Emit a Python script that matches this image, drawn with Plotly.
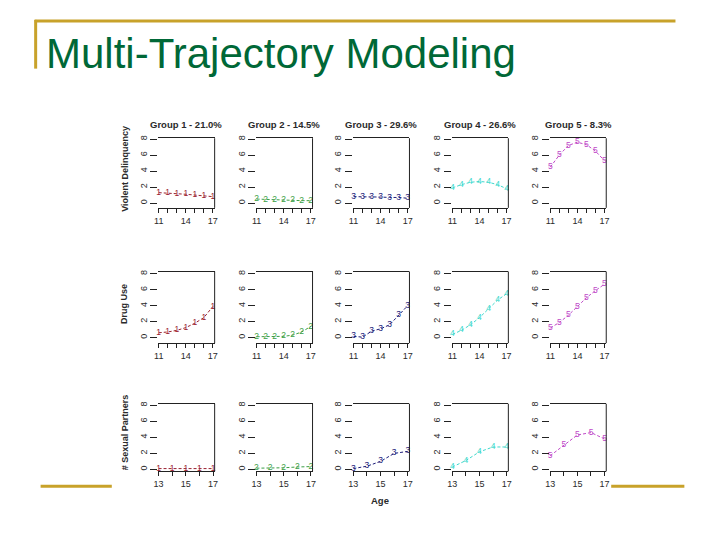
import plotly.graph_objects as go

# ---------------- data ----------------
ages_main = [11, 12, 13, 14, 15, 16, 17]
ages_sex = [13, 14, 15, 16, 17]
x_ticks_main = [11, 14, 17]
x_ticks_sex = [13, 15, 17]
y_ticks = [0, 2, 4, 6, 8]

group_titles = ["Group 1 - 21.0%", "Group 2 - 14.5%", "Group 3 - 29.6%",
                "Group 4 - 26.6%", "Group 5 - 8.3%"]
group_labels = ["1", "2", "3", "4", "5"]
row_titles = ["Violent Delinquency", "Drug Use", "# Sexual Partners"]

violent_g1 = [1.3, 1.25, 1.15, 1.1, 1.0, 0.9, 0.8]
violent_g2 = [0.5, 0.45, 0.4, 0.35, 0.35, 0.3, 0.3]
violent_g3 = [0.8, 0.8, 0.8, 0.75, 0.7, 0.7, 0.6]
violent_g4 = [1.9, 2.3, 2.6, 2.7, 2.6, 2.3, 1.8]
violent_g5 = [4.5, 6.0, 7.2, 7.6, 7.3, 6.5, 5.3]

drug_g1 = [0.6, 0.7, 0.9, 1.25, 1.8, 2.5, 3.9]
drug_g2 = [0.1, 0.1, 0.1, 0.15, 0.3, 0.7, 1.4]
drug_g3 = [0.15, 0.05, 0.8, 1.1, 1.6, 2.8, 4.0]
drug_g4 = [0.4, 0.9, 1.6, 2.5, 3.6, 4.7, 5.5]
drug_g5 = [1.2, 1.9, 2.8, 3.9, 5.0, 5.9, 6.7]

sex_g1 = [0.1, 0.1, 0.1, 0.1, 0.1]
sex_g2 = [0.15, 0.15, 0.2, 0.3, 0.35]
sex_g3 = [0.1, 0.4, 1.0, 2.0, 2.25]
sex_g4 = [0.3, 1.1, 2.2, 2.8, 2.8]
sex_g5 = [1.7, 3.0, 4.3, 4.6, 3.8]

rows_data = [
    [violent_g1, violent_g2, violent_g3, violent_g4, violent_g5],
    [drug_g1, drug_g2, drug_g3, drug_g4, drug_g5],
    [sex_g1, sex_g2, sex_g3, sex_g4, sex_g5],
]

# ---------------- styles ----------------
group_colors = ["#9a2030", "#3a9e44", "#1c1c7a", "#40d8cc", "#c04ac8"]
W, H = 720, 540
col_left = [155, 254, 352, 452, 551]
col_w = 57
row_top = [136, 270, 403]
row_bot = [206, 342, 471]
row_yrange = [[-0.6, 8.1], [-0.7, 8.3], [-0.25, 8.2]]
x_range_main = [10.95, 17.2]
x_range_sex = [12.98, 17.12]
gold = "#C8A22A"
title_green = "#006837"
axis_col = "#222222"
text_col = "#2a2a2a"
font_fam = "Liberation Sans, Arial, sans-serif"

fig = go.Figure()
layout = {}
shapes = []
annotations = []

for r in range(3):
    for c in range(5):
        idx = r * 5 + c + 1
        sfx = "" if idx == 1 else str(idx)
        xname, yname = "x" + sfx, "y" + sfx
        ages = ages_sex if r == 2 else ages_main
        vals = rows_data[r][c]
        fig.add_trace(go.Scatter(
            x=ages, y=vals, xaxis=xname, yaxis=yname,
            mode="lines+text", text=[group_labels[c]] * len(ages),
            textposition="middle center",
            textfont=dict(size=8.5, color=group_colors[c], family=font_fam),
            line=dict(color=group_colors[c], width=1, dash="3px,2px"),
            cliponaxis=False, hoverinfo="skip", showlegend=False))
        l = col_left[c]
        layout["xaxis" + sfx] = dict(
            domain=[l / W, (l + col_w) / W], anchor=yname,
            range=x_range_sex if r == 2 else x_range_main,
            tickmode="array",
            tickvals=x_ticks_sex if r == 2 else x_ticks_main,
            ticks="outside", ticklen=4, tickwidth=1, tickcolor=axis_col,
            minor=dict(tickmode="array", tickvals=ages, ticks="outside",
                       ticklen=4, tickwidth=1, tickcolor=axis_col, showgrid=False),
            showline=True, linecolor=axis_col, linewidth=1, mirror=True,
            showgrid=False, zeroline=False, fixedrange=True,
            tickfont=dict(size=9, color=text_col, family=font_fam))
        layout["yaxis" + sfx] = dict(
            domain=[1 - row_bot[r] / H, 1 - row_top[r] / H], anchor=xname,
            range=row_yrange[r], tickmode="array", tickvals=y_ticks,
            tickangle=-90, ticks="outside", ticklen=7, tickwidth=1,
            tickcolor=axis_col, showline=False, showgrid=False,
            zeroline=False, fixedrange=True,
            tickfont=dict(size=9, color=text_col, family=font_fam))
        shapes.append(dict(type="line", xref=xname + " domain",
                           yref=yname + " domain", x0=1, x1=1, y0=0, y1=1,
                           line=dict(color=axis_col, width=1)))

# group titles
for c in range(5):
    annotations.append(dict(
        text="<b>" + group_titles[c] + "</b>", xref="paper", yref="paper",
        x=(col_left[c] + col_w / 2) / W, y=1 - 122 / H,
        xanchor="center", yanchor="middle", showarrow=False,
        font=dict(size=9.5, color=text_col, family=font_fam)))

# row titles
row_centers = [167, 303, 432]
for r in range(3):
    annotations.append(dict(
        text="<b>" + row_titles[r] + "</b>", xref="paper", yref="paper",
        x=121 / W, y=1 - row_centers[r] / H, textangle=-90,
        xanchor="center", yanchor="middle", showarrow=False,
        font=dict(size=9, color=text_col, family=font_fam)))

# Age label
annotations.append(dict(
    text="<b>Age</b>", xref="paper", yref="paper", x=379 / W, y=1 - 500 / H,
    xanchor="center", yanchor="middle", showarrow=False,
    font=dict(size=9.5, color=text_col, family=font_fam)))

# slide title
annotations.append(dict(
    text="Multi-Trajectory Modeling", xref="paper", yref="paper",
    x=39 / W, y=1 - 51 / H, xanchor="left", yanchor="middle",
    showarrow=False, font=dict(size=42, color=title_green, family=font_fam)))

# slide decoration lines
def pline(x0, y0, x1, y1, w=3):
    return dict(type="line", xref="paper", yref="paper",
                x0=x0 / W, x1=x1 / W, y0=1 - y0 / H, y1=1 - y1 / H,
                line=dict(color=gold, width=w))

shapes += [pline(30, 18, 678, 18), pline(31, 17, 31, 66),
           pline(36, 486, 108, 486), pline(613, 486, 687, 486)]

fig.update_layout(
    width=W, height=H, autosize=False,
    margin=dict(l=0, r=0, t=0, b=0),
    paper_bgcolor="white", plot_bgcolor="white",
    showlegend=False, shapes=shapes, annotations=annotations, **layout)

fig.write_html("out.html", config={"displayModeBar": False},
               post_script="document.body.style.margin='0';"
                           "document.body.style.overflow='hidden';")
